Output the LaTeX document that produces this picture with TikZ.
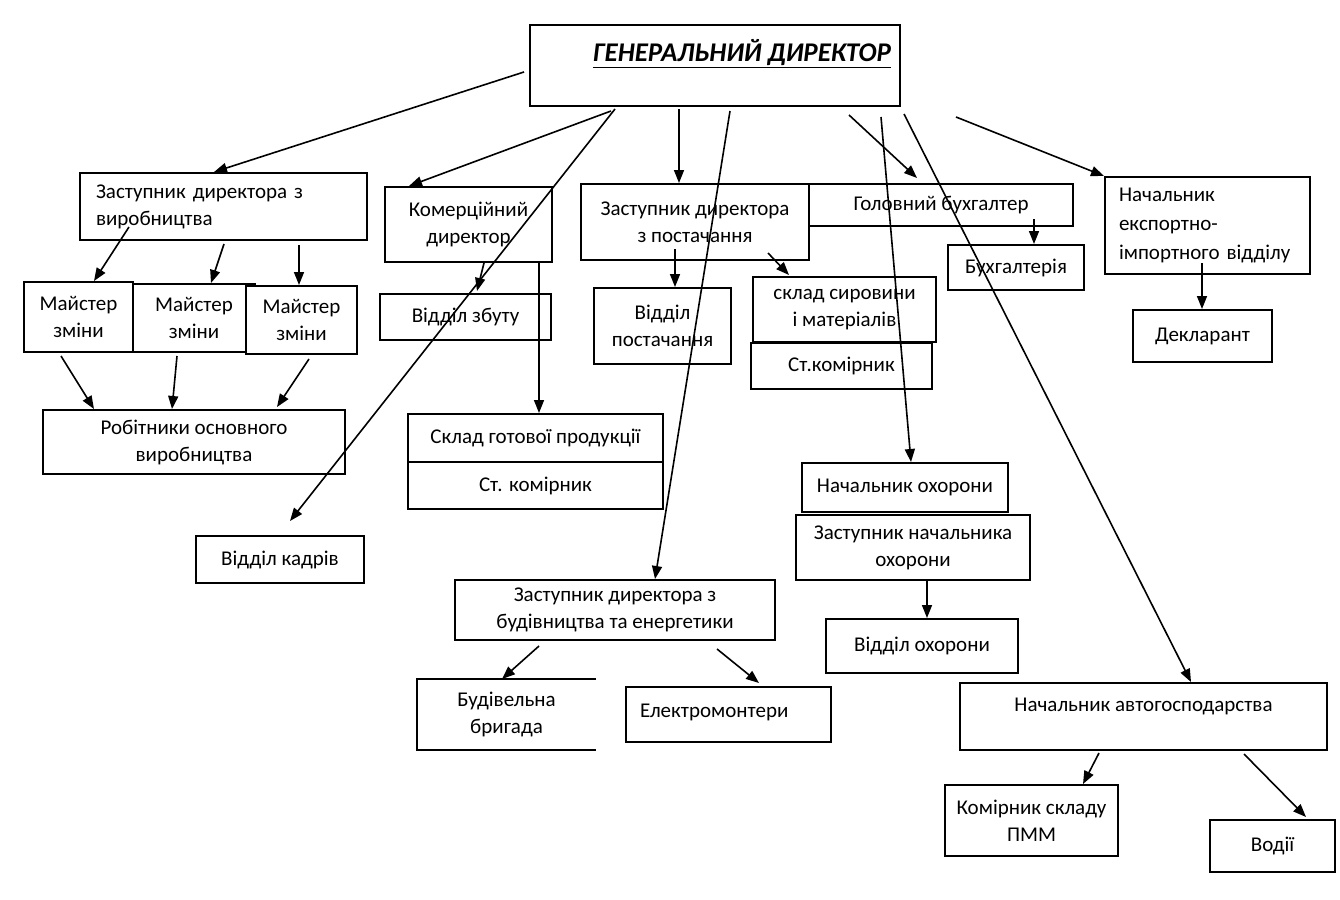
\documentclass[tikz,border=0pt]{standalone}
\usepackage{fontspec}
\setmainfont{Carlito}
\usetikzlibrary{calc,arrows.meta}
\begin{document}
\begin{tikzpicture}[x=1pt,y=-1pt,
  box/.style={draw, line width=2pt, rectangle, inner sep=4pt, align=center,
    font=\fontsize{21}{27}\selectfont},
  arr/.style={line width=1.6pt, -{Triangle[length=13pt,width=10pt]}},
]
\fill[white] (0,0) rectangle (1340,899);
\useasboundingbox (0,0) rectangle (1340,899);

% top
\node[box, minimum width=370pt, minimum height=81pt, text depth=30pt,
  font=\fontsize{27}{30}\selectfont\bfseries\itshape] (gd) at (715,65.5)
  {\hspace*{54pt}\underline{ГЕНЕРАЛЬНИЙ ДИРЕКТОР}};

% second row
\node[box, minimum width=287pt, minimum height=67pt, text width=255pt, inner xsep=16pt, align=left] (zv) at (223.5,206.5)
  {Заступник директора з\\виробництва};
\node[box, minimum width=167pt, minimum height=75pt] (km) at (468.5,224.5) {Комерційний\\директор};
\node[box, minimum width=228pt, minimum height=76pt] (zp) at (695,222) {Заступник директора\\з постачання};
\node[box, minimum width=264pt, minimum height=42pt] (gb) at (941,205) {Головний бухгалтер};
\node[box, minimum width=205pt, minimum height=97pt, text width=177pt, inner xsep=14pt, align=left,
  font=\fontsize{21}{29}\selectfont] (ei) at (1207.5,225.5)
  {Начальник\\експортно-\\імпортного відділу};
\node[box, minimum width=136pt, minimum height=45pt] (bu) at (1016,267.5) {Бухгалтерія};
\node[box, minimum width=139pt, minimum height=52pt] (de) at (1202.5,336) {Декларант};

% production
\node[box, minimum width=109pt, minimum height=70pt] (m1) at (78.5,317) {Майстер\\зміни};
\node[box, minimum width=122pt, minimum height=68pt] (m2) at (194,318) {Майстер\\зміни};
\node[box, minimum width=111pt, minimum height=68pt, fill=white] (m3) at (301.5,320) {Майстер\\зміни};
\node[box, minimum width=302pt, minimum height=64pt] (rb) at (194,442) {Робітники основного\\виробництва};
\node[box, minimum width=168pt, minimum height=47pt] (vk) at (280,559.5) {Відділ кадрів};

% commercial
\node[box, minimum width=171pt, minimum height=46pt] (vz) at (465.5,317) {Відділ збуту};
\node[box, minimum width=255pt, minimum height=48pt] (sg) at (535.5,438) {Склад готової продукції};
\node[box, minimum width=255pt, minimum height=47pt] (sk1) at (535.5,485.5) {Ст. комірник};

% supply
\node[box, minimum width=137pt, minimum height=76pt] (vp) at (662.5,326) {Відділ\\постачання};
\node[box, minimum width=183pt, minimum height=65pt] (ss) at (844.5,309.5) {склад сировини\\і матеріалів};
\node[box, minimum width=181pt, minimum height=46pt] (sk2) at (841.5,366) {Ст.комірник};

% security
\node[box, minimum width=206pt, minimum height=49pt] (no) at (905,487.5) {Начальник охорони};
\node[box, minimum width=234pt, minimum height=65pt] (zo) at (913,547.5) {Заступник начальника\\охорони};
\node[box, minimum width=192pt, minimum height=54pt] (vo) at (922,646) {Відділ охорони};

% construction
\node[box, minimum width=320pt, minimum height=60pt] (zb) at (615,610) {Заступник директора з\\будівництва та енергетики};
\node[box, draw=none, minimum width=177pt, minimum height=69pt] (bb) at (506.5,714.5) {Будівельна\\бригада};
\draw[line width=2pt] (bb.north east) -- (bb.north west) -- (bb.south west) -- (bb.south east);
\node[box, minimum width=205pt, minimum height=55pt, text depth=8pt, text width=177pt, inner xsep=14pt, align=left] (em) at (728.5,714.5) {Електромонтери};

% transport
\node[box, minimum width=367pt, minimum height=67pt, text depth=24pt] (na) at (1143.5,716.5) {Начальник автогосподарства};
\node[box, minimum width=173pt, minimum height=71pt] (kp) at (1031.5,820.5) {Комірник складу\\ПММ};
\node[box, minimum width=125pt, minimum height=52pt] (vd) at (1272.5,846) {Водії};

% arrows from general director
\draw[arr] ($(gd.west)+(-5,6.5)$) -- ($(zv.north west)+(135,0)$);
\draw[arr] ($(gd.south west)+(82,4)$) -- ($(km.north west)+(25,0)$);
\draw[arr] ($(gd.south west)+(86,2)$) -- ($(vk.north west)+(95,-14)$);
\draw[arr] ($(gd.south west)+(150,2)$) -- ($(zp.north west)+(99,0)$);
\draw[arr] ($(gd.south west)+(201,4)$) -- ($(zb.north west)+(201,0)$);
\draw[arr] ($(gd.south west)+(320,8)$) -- ($(gb.north west)+(109,-5)$);
\draw[arr] ($(gd.south west)+(352,10)$) -- ($(no.north west)+(110,0)$);
\draw[arr] ($(gd.south east)+(3,7)$) -- ($(na.north west)+(232,0)$);
\draw[arr] ($(gd.south east)+(55,10)$) -- (ei.north west);

% production arrows
\draw[arr] ($(zv.south west)+(50,-14)$) -- ($(m1.north west)+(71,0)$);
\draw[arr] ($(zv.south west)+(145,3)$) -- ($(m2.north west)+(79,0)$);
\draw[arr] ($(zv.south west)+(220,4)$) -- ($(m3.north west)+(54,0)$);
\draw[arr] ($(m1.south west)+(38,3)$) -- ($(rb.north west)+(52,0)$);
\draw[arr] ($(m2.south west)+(45,3)$) -- ($(rb.north west)+(130,0)$);
\draw[arr] ($(m3.south west)+(64,4)$) -- ($(rb.north west)+(235,-2)$);

% commercial arrows
\draw[arr] ($(km.south west)+(100,0)$) -- ($(vz.north west)+(98,-2)$);
\draw[arr] ($(km.south west)+(155,0)$) -- ($(sg.north west)+(132,0)$);

% supply arrows
\draw[arr] ($(zp.south west)+(95,-12)$) -- ($(vp.north west)+(82,0)$);
\draw[arr] ($(zp.south east)+(-42,-8)$) -- ($(ss.north west)+(37,-1)$);

% accounting / export
\draw[arr] ($(gb.south west)+(226,-8)$) -- ($(bu.north west)+(87,0)$);
\draw[arr] ($(ei.south west)+(98,-12)$) -- ($(de.north west)+(70,0)$);

% security
\draw[arr] ($(zo.south west)+(132,0)$) -- ($(vo.north west)+(102,0)$);

% construction
\draw[arr] ($(zb.south west)+(85,5)$) -- ($(bb.north west)+(85,0)$);
\draw[arr] ($(zb.south west)+(263,8)$) -- ($(em.north west)+(134,-3)$);

% transport
\draw[arr] ($(na.south west)+(140,2)$) -- ($(kp.north west)+(139,0)$);
\draw[arr] ($(na.south west)+(285,3)$) -- ($(vd.north west)+(97,-2)$);
\end{tikzpicture}
\end{document}
